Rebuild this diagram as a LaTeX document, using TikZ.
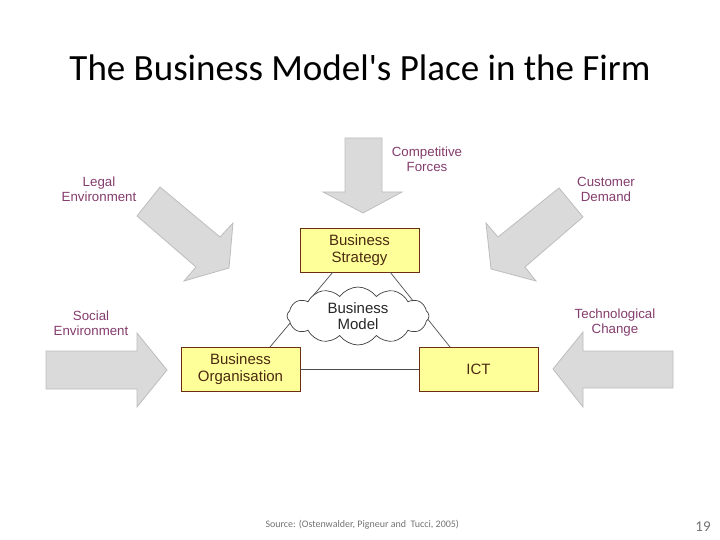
\documentclass[tikz,border=0pt]{standalone}
\usepackage{fontspec}
\setmainfont{Carlito}
\newfontfamily\titlef{Carlito}[Ligatures=TeXOff]
\newfontfamily\arialf{Liberation Sans}
\usetikzlibrary{shapes.symbols}
\definecolor{boxfill}{HTML}{FFFF99}
\definecolor{boxline}{HTML}{6B2E12}
\definecolor{boxtext}{HTML}{4A2A10}
\definecolor{lbl}{HTML}{843C6C}
\definecolor{arrfill}{HTML}{DADADA}
\definecolor{arrline}{HTML}{BDBDBD}
\tikzset{
  bizbox/.style={draw=boxline, fill=boxfill, line width=0.8pt, minimum width=119pt, minimum height=44pt, inner sep=0pt, align=center, text=boxtext, font=\arialf\fontsize{15}{17.5}\selectfont},
  forcelbl/.style={text=lbl, align=center, font=\arialf\fontsize{13.3}{15}\selectfont, inner sep=0pt},
  blockarrow/.style={draw=arrline, fill=arrfill, line width=0.8pt, line join=miter},
  linkline/.style={draw=black!70, line width=0.7pt}
}
\begin{document}
\begin{tikzpicture}[x=1pt,y=-1pt]
\useasboundingbox (0,0) rectangle (720,540);
% title
\node (title) at (360,68) {\titlef\fontsize{37}{40}\selectfont The Business Model's Place in the Firm};
% block arrows
\draw[blockarrow] (345,138) -- (382,138) -- (382,192) -- (402,192) -- (363,213) -- (323,192) -- (345,192) -- cycle;
\draw[blockarrow] (160,187) -- (220,237) -- (233,223) -- (229,268) -- (184,281) -- (196,267) -- (137,216) -- cycle;
\draw[blockarrow] (559,188) -- (583,217) -- (525,267) -- (536,281) -- (491,269) -- (486,223) -- (498,237) -- cycle;
\draw[blockarrow] (46,351) -- (137,351) -- (137,333) -- (167,370) -- (137,407) -- (137,389) -- (46,389) -- cycle;
\draw[blockarrow] (673,351) -- (583,351) -- (583,332) -- (553,369) -- (583,407) -- (583,388) -- (673,388) -- cycle;
% force labels
\node[forcelbl] (legal) at (99,189) {Legal\\Environment};
\node[forcelbl] (comp) at (427,159) {Competitive\\Forces};
\node[forcelbl] (cust) at (606,189) {Customer\\Demand};
\node[forcelbl] (social) at (91,323) {Social\\Environment};
\node[forcelbl] (tech) at (615,323) {Technological\\Change};
% boxes
\node[bizbox] (strat) at (359.5,250) {Business\\Strategy};
\node[bizbox] (org) at (240.5,369) {Business\\Organisation};
\node[bizbox] (ict) at (478.5,369) {ICT};
% links
\coordinate (s1) at (333,272);
\coordinate (s2) at (390,272);
\coordinate (o1) at (270,347);
\coordinate (i1) at (450,347);
\draw[linkline] (s1) -- (o1);
\draw[linkline] (s2) -- (i1);
\draw[linkline] (org.east) -- (ict.west);
% cloud
\node[cloud, cloud puffs=12, cloud puff arc=110, aspect=2.6, draw=black!75, fill=white, line width=0.7pt, minimum width=142pt, minimum height=58pt, inner sep=0pt, align=center, font=\arialf\fontsize{15}{16}\selectfont, text=black!85] (model) at (358,316) {Business\\Model};
% footer
\node[text=black!55, font=\fontsize{10}{11}\selectfont, anchor=west] (src) at (262,525) {Source: (Ostenwalder, Pigneur and\ \ Tucci, 2005)};
\node[text=black!55, font=\fontsize{15}{16}\selectfont] (pg) at (703,527) {19};
\end{tikzpicture}
\end{document}
